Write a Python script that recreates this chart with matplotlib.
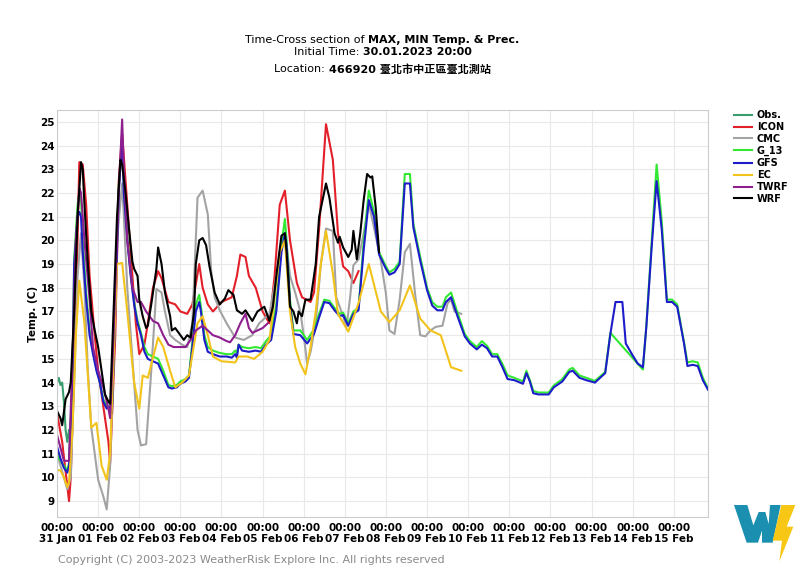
import numpy as np
import pandas as pd
import matplotlib
matplotlib.use("Agg")
import matplotlib.pyplot as plt
import matplotlib.dates as mdates
from matplotlib.patches import Polygon

plt.rcParams['font.family'] = ['DejaVu Sans', 'Noto Sans CJK TC']
plt.rcParams['font.weight'] = 'bold'

# hours after 31 Jan 2023 00:00, temperatures in C
obs_hours = [0, 1, 2, 3, 4, 5, 6, 7]
obs_temp = [14.0, 14.2, 13.9, 14.0, 13.2, 12.0, 11.5, 12.0]

icon_hours = [0, 3, 7, 8, 11, 13, 15, 17, 19, 22,
              24, 27, 30, 31, 34, 36, 38, 41, 44, 46,
              48, 51, 53, 56, 59, 61, 65, 69, 72, 76,
              79, 83, 85, 88, 91, 96, 102, 105, 107, 110,
              112, 116, 120, 124, 127, 130, 133, 136, 140, 143,
              148, 150, 153, 157, 161, 164, 167, 170, 173, 176]
icon_temp = [12.7, 11.5, 9.0, 10.0, 17.0, 23.3, 23.2, 21.5, 18.5, 16.0,
             14.5, 13.0, 11.5, 10.6, 16.0, 22.5, 24.5, 21.5, 18.5, 16.5,
             15.2, 15.6, 16.5, 18.0, 18.7, 18.4, 17.4, 17.3, 17.0, 16.9,
             17.3, 19.0, 18.0, 17.3, 17.0, 17.4, 17.6, 18.5, 19.4, 19.3,
             18.5, 18.0, 17.0, 16.5, 18.5, 21.5, 22.1, 20.0, 18.2, 17.6,
             17.4, 17.8, 20.5, 24.9, 23.4, 20.3, 18.9, 18.7, 18.2, 18.7]

cmc_hours = [0, 4, 6, 8, 10, 12, 14, 16, 18, 20,
             24, 27, 29, 31, 33, 35, 38, 39, 41, 44,
             47, 49, 52, 55, 58, 61, 63, 66, 69, 73,
             76, 79, 82, 85, 88, 90, 92, 95, 99, 104,
             109, 114, 118, 124, 128, 131, 134, 136,
             139, 142, 144, 146, 148, 151, 154, 157, 161, 163,
             167, 169, 171, 173, 176, 179, 182, 185, 189, 192,
             194, 197, 200, 203, 206, 209, 212, 215, 218, 221,
             225, 228, 230, 232, 236]
cmc_temp = [11.0, 10.0, 9.5, 10.0, 14.0, 18.5, 20.3, 18.0, 14.5, 12.1,
            9.9, 9.2, 8.65, 10.5, 15.0, 20.0, 22.4, 21.0, 18.0, 15.0,
            12.0, 11.35, 11.4, 14.5, 17.95, 17.8, 17.0, 16.0, 15.8, 15.6,
            15.5, 16.5, 21.8, 22.1, 21.1, 18.7, 17.6, 17.05, 16.5, 15.9,
            15.8, 16.0, 16.5, 16.9, 18.5, 20.0, 19.8, 18.5,
            17.8, 17.0, 16.0, 14.8, 15.3, 16.5, 19.0, 20.5, 20.4, 17.6,
            16.8, 16.35, 17.55, 18.95, 19.2, 20.3, 21.55, 20.55, 19.15, 17.75,
            16.2, 16.05, 17.5, 19.5, 19.85, 17.75, 16.0, 15.95, 16.2, 16.35,
            16.4, 17.35, 17.5, 17.0, 16.9]

g13_hours = [0, 2, 4, 6, 7, 9, 10, 12, 13, 14,
             15, 17, 19, 21, 23, 25, 27, 29, 31, 32,
             34, 36, 38, 39, 41, 43, 45, 47, 49, 51,
             53, 56, 59, 62, 65, 67, 70, 72, 75, 77,
             79, 81, 83, 84, 86, 88, 91, 95, 99, 102,
             104, 105, 106, 108, 112, 116, 119, 122, 125, 128,
             131, 133, 134, 136, 138, 142, 146, 150, 153, 156,
             159, 162, 165, 167, 170, 173, 176, 179, 182, 185,
             188, 192, 194, 197, 200, 203, 206, 208, 212, 216,
             219, 222, 225, 227, 230, 234, 238, 241, 245, 248,
             251, 254, 257, 260, 263, 267, 272, 274, 276, 278,
             281, 287, 290, 295, 299, 301, 305, 309, 314, 320,
             323, 342, 344, 347, 350,
             353, 356, 359, 362, 366, 368, 371, 374, 377, 380]
g13_temp = [11.0, 10.7, 10.5, 10.3, 10.6, 14.2, 19.2, 21.5, 22.0, 21.8,
            20.0, 17.8, 16.2, 15.3, 14.6, 14.0, 13.3, 13.0, 13.0, 12.8,
            17.3, 22.3, 24.0, 22.3, 20.2, 18.6, 17.4, 16.6, 16.1, 15.5,
            15.2, 15.1, 15.0, 14.5, 13.9, 13.85, 13.9, 14.05, 14.15, 14.3,
            15.7, 17.3, 17.7, 17.2, 16.0, 15.5, 15.35, 15.25, 15.2, 15.2,
            15.35, 15.25, 15.6, 15.5, 15.45, 15.5, 15.45, 15.75, 16.0, 17.3,
            19.8, 20.9, 20.0, 17.5, 16.2, 16.2, 15.8, 16.25, 16.9, 17.5,
            17.45, 17.15, 16.9, 16.95, 16.5, 17.0, 17.15, 19.9, 22.1, 21.2,
            19.5, 18.9, 18.65, 18.8, 19.1, 22.8, 22.8, 20.7, 19.3, 18.0,
            17.4, 17.2, 17.2, 17.6, 17.8, 16.9, 16.05, 15.75, 15.5, 15.75,
            15.55, 15.2, 15.2, 14.78, 14.3, 14.2, 14.05, 14.5, 14.1, 13.65,
            13.58, 13.58, 13.88, 14.15, 14.55, 14.62, 14.3, 14.2, 14.07, 14.45,
            16.1, 14.55, 16.4, 19.8, 23.2,
            20.8, 17.5, 17.5, 17.3, 15.7, 14.85, 14.9, 14.85, 14.2, 13.75]

gfs_hours = [0, 2, 4, 6, 7, 9, 10, 12, 13, 14,
             15, 17, 19, 21, 23, 25, 27, 29, 31, 32,
             34, 36, 38, 39, 41, 43, 45, 47, 49, 51,
             53, 56, 59, 62, 65, 67, 70, 72, 75, 77,
             79, 81, 83, 84, 86, 88, 91, 95, 99, 102,
             104, 105, 106, 108, 112, 116, 119, 122, 125, 128,
             131, 133, 134, 136, 138, 142, 146, 150, 153, 156,
             159, 162, 165, 167, 170, 173, 176, 179, 182, 185,
             188, 192, 194, 197, 200, 203, 206, 208, 212, 216,
             219, 222, 225, 227, 230, 234, 238, 241, 245, 248,
             251, 254, 257, 260, 263, 267, 272, 274, 276, 278,
             281, 287, 290, 295, 299, 301, 305, 309, 314, 320,
             323, 326, 330, 332, 336, 339, 342, 344, 347, 350,
             353, 356, 359, 362, 366, 368, 371, 374, 377, 380]
gfs_temp = [11.3, 10.8, 10.4, 10.2, 10.5, 14.0, 19.0, 21.0, 21.2, 21.0,
            19.5, 17.5, 16.0, 15.2, 14.5, 14.0, 13.2, 12.9, 13.0, 12.7,
            17.0, 22.0, 24.3, 22.0, 20.0, 18.5, 17.3, 16.5, 16.0, 15.3,
            15.0, 14.9, 14.8, 14.3, 13.8, 13.75, 13.8, 13.95, 14.05, 14.2,
            15.5, 17.0, 17.4, 17.0, 15.8, 15.3, 15.2, 15.1, 15.1, 15.05,
            15.2, 15.05, 15.6, 15.35, 15.3, 15.35, 15.3, 15.6, 15.8, 17.0,
            19.5, 20.3, 19.8, 17.3, 16.05, 16.0, 15.65, 16.05, 16.75, 17.4,
            17.35, 17.05, 16.8, 16.85, 16.4, 16.9, 17.05, 19.6, 21.7, 21.0,
            19.4, 18.8, 18.55, 18.65, 19.0, 22.4, 22.4, 20.55, 19.15, 17.9,
            17.25, 17.05, 17.05, 17.4, 17.6, 16.75, 15.95, 15.65, 15.4, 15.6,
            15.45, 15.1, 15.1, 14.65, 14.15, 14.1, 13.95, 14.4, 14.05, 13.55,
            13.5, 13.5, 13.8, 14.05, 14.45, 14.5, 14.2, 14.1, 14.0, 14.4,
            16.05, 17.4, 17.4, 15.65, 15.15, 14.8, 14.65, 16.35, 19.6, 22.5,
            20.45, 17.4, 17.4, 17.2, 15.65, 14.7, 14.75, 14.7, 14.1, 13.7]

ec_hours = [0, 2, 4, 6, 7, 9, 11, 13, 16, 20,
            23, 26, 29, 31, 33, 35, 38, 41, 45, 48,
            50, 53, 59, 62, 66, 69, 73, 77, 82, 85,
            88, 91, 96, 104, 106, 111, 115, 120, 124, 126,
            130, 133, 136, 139, 142, 145, 148, 151, 154, 157,
            161, 164, 170, 176, 182, 189, 194, 200, 206, 212,
            218, 224, 230, 236]
ec_temp = [10.3, 10.3, 10.0, 9.6, 9.8, 12.0, 16.0, 18.3, 16.5, 12.1,
           12.3, 10.5, 9.9, 11.0, 15.0, 19.0, 19.05, 17.0, 14.0, 12.9,
           14.3, 14.2, 15.9, 15.5, 14.5, 13.8, 14.0, 14.3, 16.5, 16.8,
           16.0, 15.1, 14.9, 14.85, 15.1, 15.1, 15.0, 15.3, 15.8, 17.0,
           19.5, 20.0, 17.0, 15.5, 14.8, 14.35, 15.5, 17.0, 19.0, 20.4,
           18.6, 16.9, 16.15, 17.35, 19.0, 17.0, 16.55, 17.05, 18.1, 16.7,
           16.2, 16.0, 14.65, 14.5]

twrf_hours = [0, 4, 7, 9, 11, 13, 14, 16, 19, 21,
              24, 27, 30, 31, 33, 36, 38, 39, 41, 44,
              47, 49, 52, 56, 59, 62, 65, 68, 72, 75,
              78, 81, 85, 88, 91, 95, 99, 101, 104, 107,
              110, 112, 114, 117, 120, 123]
twrf_temp = [11.8, 10.7, 10.7, 15.0, 20.0, 22.2, 22.0, 20.0, 17.5, 15.5,
             14.5, 13.8, 12.9, 12.5, 16.0, 22.0, 25.1, 23.0, 20.0, 18.0,
             17.4, 17.4, 17.0, 16.6, 16.5, 16.0, 15.6, 15.5, 15.5, 15.5,
             15.8, 16.2, 16.4, 16.2, 16.0, 15.9, 15.75, 15.7, 16.0, 16.5,
             16.9, 16.3, 16.1, 16.2, 16.3, 16.5]

wrf_hours = [0, 2, 3, 5, 7, 8, 10, 12, 14, 15,
             16, 18, 20, 22, 24, 26, 28, 30, 31, 33,
             35, 37, 38, 40, 42, 44, 45, 47, 48, 50,
             52, 53, 55, 58, 59, 61, 63, 66, 67, 69,
             71, 72, 74, 76, 78, 80, 81, 83, 85, 87,
             89, 92, 95, 98, 100, 103, 105, 108, 110, 114,
             117, 121, 124, 126, 128, 131, 133,
             134, 136, 138, 140, 141, 143, 145, 148, 151, 153,
             157, 159, 162, 164, 165, 167, 170, 172, 173, 175,
             177, 179, 181, 183, 184, 186, 188]
wrf_temp = [12.8, 12.5, 12.2, 13.3, 13.6, 14.0, 17.0, 21.0, 23.3, 23.0,
            21.5, 19.0, 17.0, 16.2, 15.5, 14.5, 13.5, 13.2, 13.1, 17.0,
            21.0, 23.4, 23.2, 22.0, 20.5, 19.1, 18.8, 18.5, 17.5, 16.8,
            16.3, 16.4, 17.3, 18.8, 19.7, 19.0, 17.8, 16.8, 16.2, 16.3,
            16.1, 16.0, 15.8, 16.0, 15.9, 17.0, 19.0, 20.0, 20.1, 19.8,
            18.9, 17.8, 17.3, 17.55, 17.9, 17.7, 17.05, 16.9, 17.05, 16.6,
            17.0, 17.2, 16.6, 17.2, 18.5, 20.2, 20.3,
            19.5, 17.2, 17.0, 16.5, 17.0, 16.8, 17.5, 17.5, 19.0, 21.0,
            22.4, 21.8, 20.3, 19.9, 20.15, 19.7, 19.3, 19.6, 20.4, 19.2,
            20.3, 21.7, 22.8, 22.65, 22.7, 21.4, 19.5]

names = ["Obs.", "ICON", "CMC", "G_13", "GFS", "EC", "TWRF", "WRF"]
colors = ["#3a9d6e", "#e3202a", "#a3a3a3", "#33e833", "#1c1cc8",
          "#f2c31a", "#8e1f8e", "#000000"]
hours = [obs_hours, icon_hours, cmc_hours, g13_hours, gfs_hours,
         ec_hours, twrf_hours, wrf_hours]
temps = [obs_temp, icon_temp, cmc_temp, g13_temp, gfs_temp,
         ec_temp, twrf_temp, wrf_temp]

start = pd.Timestamp("2023-01-31 00:00")
end = start + pd.Timedelta(hours=380)

fig = plt.figure(figsize=(8, 5.67), dpi=100)
ax = fig.add_axes([0.0713, 0.0882, 0.8137, 0.7178])

for name, h, t, c in zip(names, hours, temps, colors):
    x = (start + pd.to_timedelta(h, unit="h")).to_numpy()
    ax.plot(x, t, color=c, lw=1.5, label=name)

ax.set_xlim(start, end)
ax.set_ylim(8.33, 25.5)
ax.set_yticks(range(9, 26))
ax.xaxis.set_major_locator(mdates.DayLocator())
ax.xaxis.set_major_formatter(mdates.DateFormatter("%H:%M\n%d %b"))
ax.tick_params(length=0, labelsize=7.5)
ax.tick_params(axis="x", pad=4)
ax.tick_params(axis="y", pad=1.5)
ax.grid(True, color="#e9e9e9", lw=0.8)
for s in ax.spines.values():
    s.set_color("#cccccc")
ax.set_ylabel("Temp. (C)", fontsize=7.5, fontweight="bold")
ax.yaxis.set_label_coords(-0.03, 0.5)

fig.legend(loc="upper left", bbox_to_anchor=(0.917, 0.806), frameon=False,
           fontsize=7, handlelength=1.9, handletextpad=0.5, labelspacing=0.2,
           borderpad=0, borderaxespad=0)

# title lines: normal part + bold part, centred over the axes
title_lines = [
    (0.9295, "Time-Cross section of ", "MAX, MIN Temp. & Prec."),
    (0.908, "Initial Time: ", "30.01.2023 20:00"),
    (0.878, "Location: ", "466920 臺北市中正區臺北測站"),
]
pieces = []
for y, normal, bold in title_lines:
    t1 = fig.text(0, y, normal, fontsize=8, fontweight="normal", va="center")
    t2 = fig.text(0, y, bold, fontsize=8, fontweight="bold", va="center")
    pieces.append((y, t1, t2))

fig.text(58 / 800, 1 - 560 / 567,
         "Copyright (C) 2003-2023 WeatherRisk Explore Inc. All rights reserved",
         fontsize=8, fontweight="normal", color="#8a8a8a", va="center")

# logo
lax = fig.add_axes([0.9, 0.0, 0.1, 77 / 567])
lax.set_xlim(0, 240)
lax.set_ylim(231, 0)
lax.axis("off")
lax.add_patch(Polygon([(42, 45), (82, 45), (100, 106), (116, 66), (136, 66),
                       (146, 102), (150, 45), (182, 45), (158, 158),
                       (126, 158), (126, 122), (114, 158), (80, 158)],
                      closed=True, color="#1a8fb0", lw=0))
lax.add_patch(Polygon([(184, 45), (226, 45), (200, 110), (220, 110),
                       (178, 214), (186, 152), (158, 152)],
                      closed=True, color="#f8c614", lw=0))

fig.canvas.draw()
r = fig.canvas.get_renderer()
cx = (0.0713 + 0.8137 / 2) * 800
for y, t1, t2 in pieces:
    w1 = t1.get_window_extent(r).width
    w2 = t2.get_window_extent(r).width
    x0 = cx - (w1 + w2) / 2
    t1.set_position((x0 / 800, y))
    t2.set_position(((x0 + w1) / 800, y))

fig.savefig("out.png", dpi=100)
